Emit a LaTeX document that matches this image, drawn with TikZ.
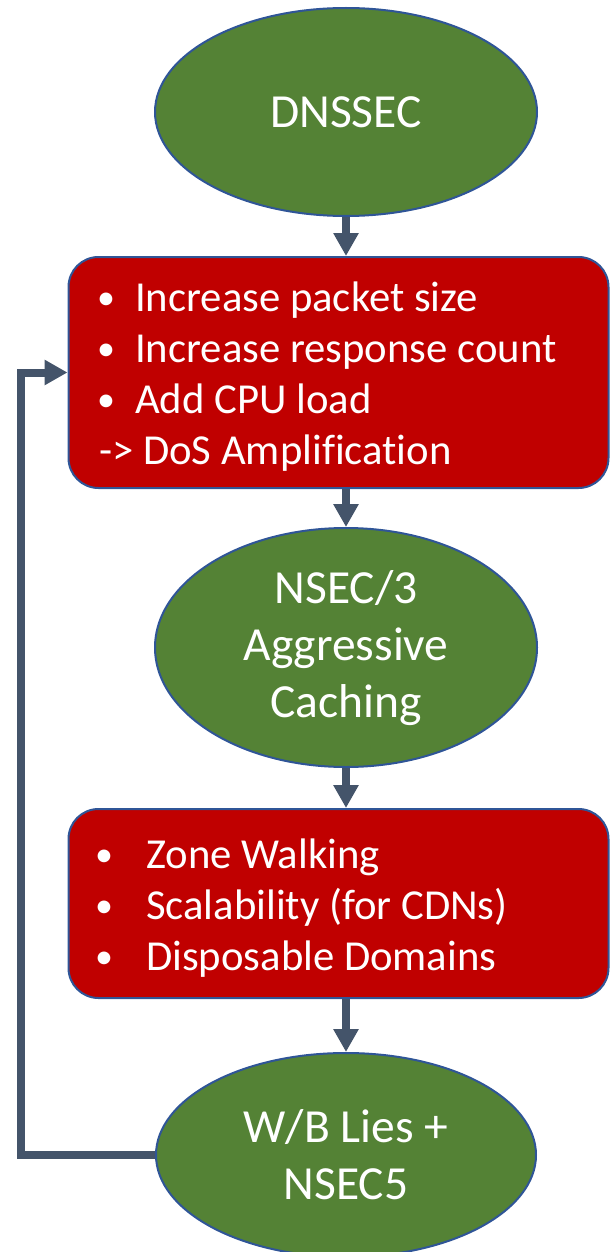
\documentclass[tikz,border=0pt]{standalone}
\usepackage{fontspec}
\setmainfont{Carlito}[Ligatures=NoCommon]
\usetikzlibrary{shapes.geometric,arrows.meta}

\definecolor{okgreen}{HTML}{548235}
\definecolor{okred}{HTML}{C00000}
\definecolor{okedge}{HTML}{2F5597}
\definecolor{okarrow}{HTML}{44546A}

\tikzset{
  stage/.style={ellipse, draw=okedge, line width=2pt, fill=okgreen,
    text=white, inner sep=0pt, align=center,
    font=\fontsize{47.5}{57}\selectfont},
  issuebox/.style={rectangle, rounded corners=30pt, draw=okedge,
    line width=2pt, fill=okred, inner sep=0pt},
  itemtext/.style={anchor=base west, text=white, inner sep=0pt,
    font=\fontsize{42.7}{51}\selectfont},
  bulletmark/.style={anchor=base, text=white, inner sep=0pt,
    font=\fontsize{36}{51}\selectfont},
  flow/.style={draw=okarrow, line width=8.5pt,
    -{Triangle[width=24pt,length=23pt]}},
}

\begin{document}
\begin{tikzpicture}[x=1pt,y=-1pt]
\useasboundingbox (0,0) rectangle (610,1252);

% stages and problem boxes
\node[stage, minimum width=382pt, minimum height=208pt] (e1) at (346,112) {DNSSEC};
\node[issuebox, minimum width=540pt, minimum height=231pt] (b1) at (338.5,372.5) {};
\node[stage, minimum width=382pt, minimum height=239pt] (e2) at (346,647.5)
  {\raisebox{-7pt}[0pt][0pt]{\parbox{230pt}{\centering NSEC/3\\Aggressive\\Caching}}};
\node[issuebox, minimum width=540pt, minimum height=189pt] (b2) at (338.5,903.5) {};
\node[stage, minimum width=380pt, minimum height=204pt] (e3) at (346,1155)
  {W/B Lies +\\NSEC5};

% first box contents
\node[bulletmark] (p1) at (106,309) {•};
\node[itemtext] (t1) at (135,311) {Increase packet size};
\node[bulletmark] (p2) at (106,360) {•};
\node[itemtext] (t2) at (135,362) {Increase response count};
\node[bulletmark] (p3) at (106,411) {•};
\node[itemtext] (t3) at (135,413) {Add CPU load};
\node[itemtext] (t4) at (99,464) {-> DoS Amplification};

% second box contents
\node[bulletmark] (q1) at (104,866) {•};
\node[itemtext] (s1) at (146,868) {Zone Walking};
\node[bulletmark] (q2) at (104,917) {•};
\node[itemtext] (s2) at (146,919) {Scalability (for CDNs)};
\node[bulletmark] (q3) at (104,968) {•};
\node[itemtext] (s3) at (146,970) {Disposable Domains};

% connectors
\draw[flow] (e1.south) -- (e1.south |- b1.north);
\draw[flow] (e2.north |- b1.south) -- (e2.north);
\draw[flow] (e2.south) -- (e2.south |- b2.north);
\draw[flow] (e3.north |- b2.south) -- (e3.north);
\coordinate (loop) at (20.5,1155);
\draw[flow, line width=8pt, line join=miter] (e3.west) -- (loop) |- (b1.west);
\end{tikzpicture}
\end{document}
